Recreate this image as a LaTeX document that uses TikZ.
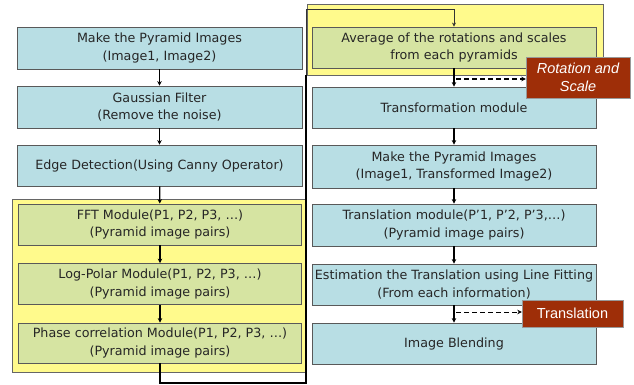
\documentclass[tikz,border=0pt]{standalone}
\usepackage{fontspec}
\setmainfont{DejaVu Sans}
\newfontfamily\labelfont{Liberation Sans}
\usetikzlibrary{arrows.meta}
\definecolor{boxblue}{RGB}{184,222,228}
\definecolor{boxgreen}{RGB}{214,228,162}
\definecolor{regyellow}{RGB}{255,250,140}
\definecolor{labred}{RGB}{158,46,8}
\tikzset{
  basebox/.style={draw=black!65, line width=0.8pt, minimum height=42pt, inner sep=0pt, align=center,
    font=\fontsize{12.7}{17.5}\selectfont, text=black!85},
  bluebox/.style={basebox, fill=boxblue},
  greenbox/.style={basebox, fill=boxgreen},
  region/.style={fill=regyellow, draw=black!60, line width=0.7pt},
  labbox/.style={fill=labred, draw=black!40, line width=0.4pt, inner sep=0pt, align=center, text=white,
    font=\labelfont\fontsize{14.5}{18}\selectfont},
  conn/.style={line width=1.2pt, black, -{Stealth[length=4.5pt,width=4.5pt]}},
  thinconn/.style={line width=0.7pt, black!80, -{Stealth[length=4pt,width=4pt]}},
  dashconn/.style={line width=1.2pt, black, dash pattern=on 5pt off 3pt, -{Stealth[length=4.5pt,width=4.5pt]}}
}
\begin{document}
\begin{tikzpicture}[x=1pt,y=-1pt]
\useasboundingbox (0,0) rectangle (634,385);
% regions
\path[region] (12,199) rectangle (305,372);
\path[region] (307,4) rectangle (603,75);
% left column
\node[bluebox, minimum width=285pt] (b1) at (159.5,48) {Make the Pyramid Images\\(Image1, Image2)};
\node[bluebox, minimum width=285pt] (b2) at (159.5,107) {Gaussian Filter\\(Remove the noise)};
\node[bluebox, minimum width=285pt, minimum height=41pt] (b3) at (159.5,165.5) {Edge Detection(Using Canny Operator)};
\node[greenbox, minimum width=283pt, minimum height=41pt] (f1) at (160,224.5) {FFT Module(P1, P2, P3, \dots)\\(Pyramid image pairs)};
\node[greenbox, minimum width=283pt, minimum height=41pt] (f2) at (160,284) {Log-Polar Module(P1, P2, P3, \dots)\\(Pyramid image pairs)};
\node[greenbox, minimum width=283pt, minimum height=40pt] (f3) at (160,343) {Phase correlation Module(P1, P2, P3, \dots)\\(Pyramid image pairs)};
% right column
\node[greenbox, minimum width=284pt, minimum height=41pt] (r0) at (454,47.5) {Average of the rotations and scales\\from each pyramids};
\node[bluebox, minimum width=284pt, minimum height=41pt] (r1) at (454,107.5) {Transformation module};
\node[bluebox, minimum width=284pt, minimum height=43pt] (r2) at (454,166.5) {Make the Pyramid Images\\(Image1, Transformed Image2)};
\node[bluebox, minimum width=284pt] (r3) at (454,225) {Translation module(P’1, P’2, P’3,\dots)\\(Pyramid image pairs)};
\node[bluebox, minimum width=284pt, minimum height=41pt] (r4) at (454,284.5) {Estimation the Translation using Line Fitting\\(From each information)};
\node[bluebox, minimum width=284pt, minimum height=41pt] (r5) at (454,343.5) {Image Blending};
% labels
\node[labbox, minimum width=104pt, minimum height=41pt] (rs) at (578,77.5) {\itshape Rotation and\\\itshape Scale};
\node[labbox, minimum width=101pt, minimum height=27pt] (tr) at (572.5,313.5) {Translation};
% connectors
\draw[conn] (b1) -- (b2);
\draw[conn] (b2) -- (b3);
\draw[conn] (b3) -- (f1);
\draw[conn] (f1) -- (f2);
\draw[conn] (f2) -- (f3);
\coordinate (c1) at (160,383);
\coordinate (c3) at (306,75);
\coordinate (c2) at (306,9);
\draw[line width=1.4pt, black] (f3.south) -- (c1) -| (c3);
\draw[thinconn] (c3) -- (c2) -| (r0.north);
\draw[conn] (r0) -- (r1);
\draw[conn] (r1) -- (r2);
\draw[conn] (r2) -- (r3);
\draw[conn] (r3) -- (r4);
\draw[conn] (r4) -- (r5);
\coordinate (d1) at (456,79);
\coordinate (d2) at (456,312);
\draw[dashconn] (d1) -- (d1 -| rs.west);
\draw[dashconn, line width=1pt] (d2) -- (d2 -| tr.west);
\end{tikzpicture}
\end{document}
